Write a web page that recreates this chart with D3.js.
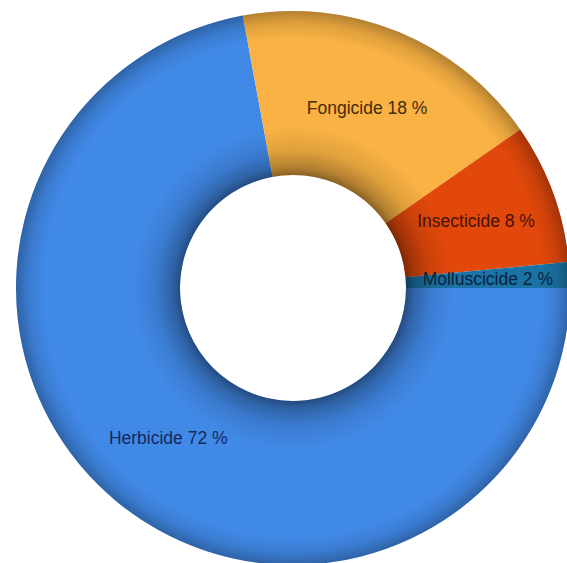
<!DOCTYPE html>
<html><head><meta charset="utf-8">
<script src="https://cdn.jsdelivr.net/npm/d3@7"></script>
<style>html,body{margin:0;padding:0;background:#fff;}svg{display:block;}</style>
</head><body>
<svg id="chart" width="567" height="563"></svg>
<script>
const categories = ["Herbicide", "Fongicide", "Insecticide", "Molluscicide"];
const values = [72.1, 18.2, 8.2, 1.5];
const labels = ["Herbicide 72 %", "Fongicide 18 %", "Insecticide 8 %", "Molluscicide 2 %"];
const colors = ["#4189e7", "#f9b243", "#e2480b", "#1b72a5"];
const textColors = ["#14285e", "#422c0c", "#461204", "#08223c"];

const svg = d3.select("#chart");
const cx = 293, cy = 288, R = 277, r = 113;

const defs = svg.append("defs");
const grad = defs.append("radialGradient").attr("id", "shade")
  .attr("gradientUnits", "userSpaceOnUse").attr("cx", 0).attr("cy", 0).attr("r", R);
[[r / R, 0.45], [(r + 8) / R, 0.28], [(r + 25) / R, 0.1], [(r + 48) / R, 0], [0.9, 0], [0.955, 0.1], [1, 0.28]]
  .forEach(([o, a]) => grad.append("stop").attr("offset", o).attr("stop-color", "#000").attr("stop-opacity", a));

const g = svg.append("g").attr("transform", `translate(${cx},${cy})`);
const pie = d3.pie().sort(null).value(d => d)
  .startAngle(Math.PI / 2).endAngle(Math.PI / 2 + 2 * Math.PI);
const arcs = pie(values);
const arc = d3.arc().innerRadius(r).outerRadius(R);

g.selectAll("path.slice").data(arcs).join("path").attr("class", "slice")
  .attr("d", arc).attr("fill", (d, i) => colors[i]);

g.append("path")
  .attr("d", d3.arc().innerRadius(r).outerRadius(R).startAngle(0).endAngle(2 * Math.PI)())
  .attr("fill", "url(#shade)");

const lr = (R + r) / 2;
const labelArc = d3.arc().innerRadius(lr).outerRadius(lr);
g.selectAll("text.lbl").data(arcs).join("text").attr("class", "lbl")
  .attr("transform", d => `translate(${labelArc.centroid(d)})`)
  .attr("text-anchor", "middle").attr("dy", "0.35em")
  .attr("font-family", "'Liberation Sans', Arial, sans-serif")
  .attr("font-size", 17.5)
  .attr("fill", (d, i) => textColors[i])
  .text((d, i) => labels[i]);
</script>
</body></html>
